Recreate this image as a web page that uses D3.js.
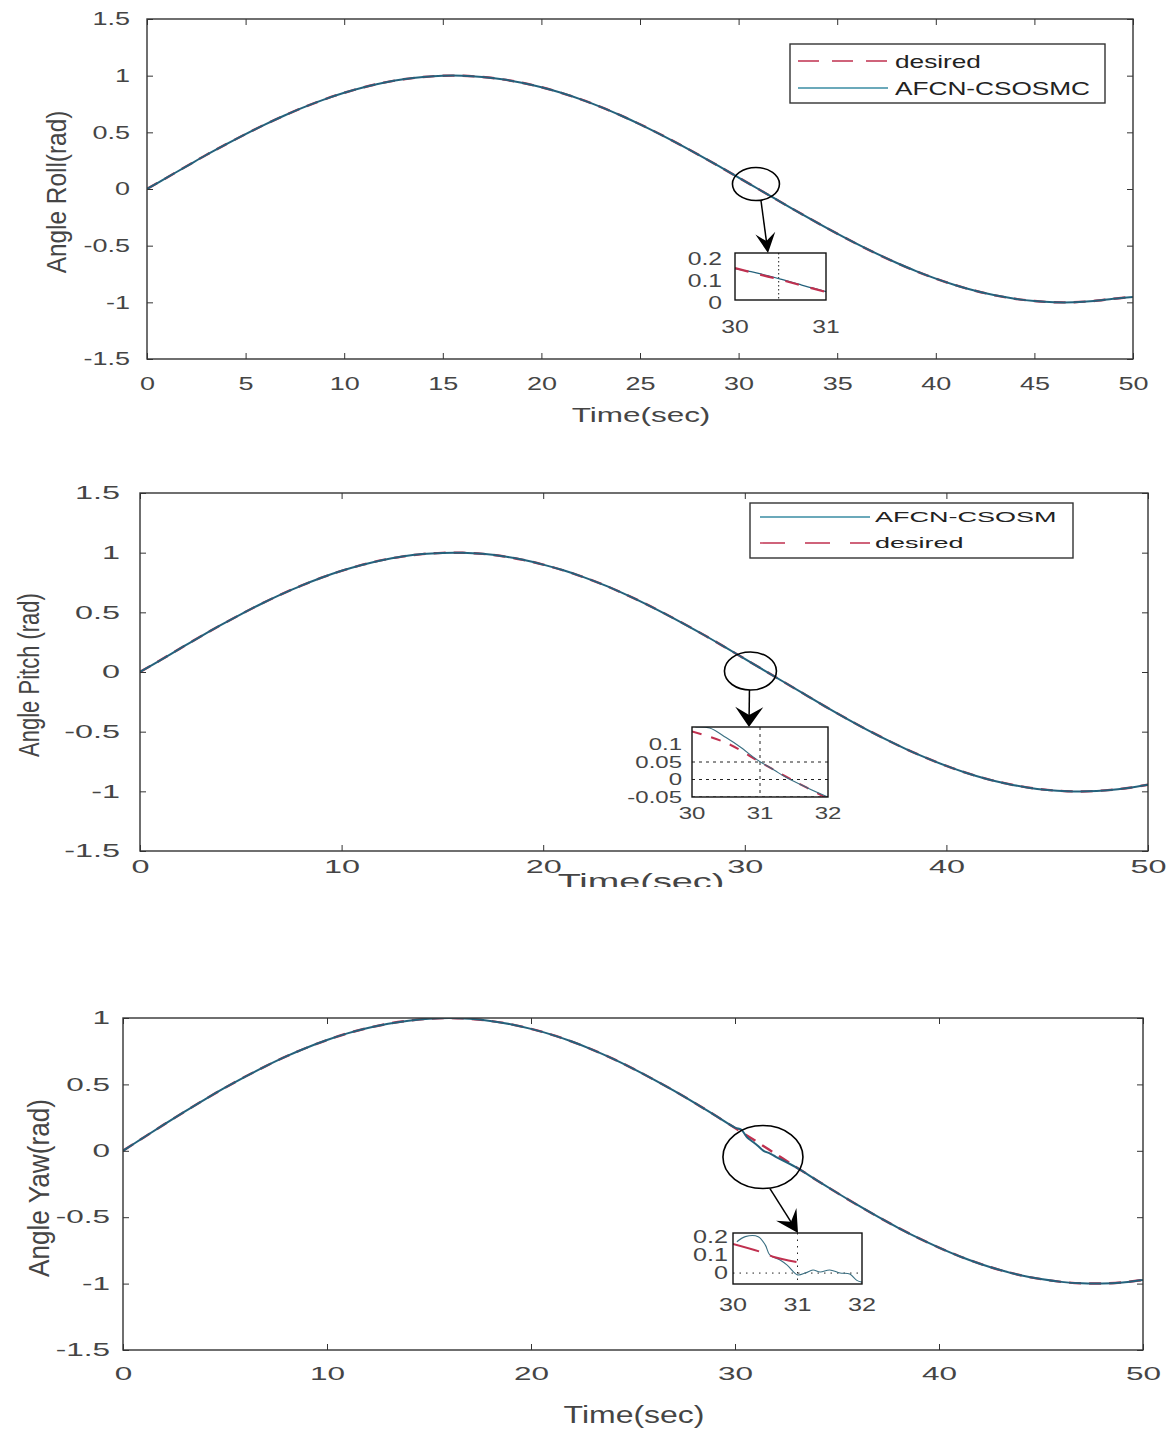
<!DOCTYPE html>
<html><head><meta charset="utf-8">
<script src="https://cdn.jsdelivr.net/npm/d3@7"></script>
<style>
body{margin:0;background:#fff}
svg{display:block}
text{font-family:"Liberation Sans",Arial,sans-serif}
</style>
</head><body>
<svg id="c" width="1173" height="1430"></svg>
<script>
// ---------------- DATA ----------------
const timeSec = [0,1,2,3,4,5,6,7,8,9,10,11,12,13,14,15,16,17,18,19,20,21,22,23,24,25,26,27,28,29,30,31,32,33,34,35,36,37,38,39,40,41,42,43,44,45,46,47,48,49,50];
const rollValues = [0,0.10,0.20,0.30,0.394,0.485,0.571,0.651,0.725,0.791,0.849,0.898,0.938,0.968,0.988,0.999,0.999,0.988,0.968,0.938,0.898,0.849,0.791,0.725,0.651,0.571,0.485,0.394,0.299,0.201,0.101,0.0,-0.101,-0.201,-0.299,-0.394,-0.485,-0.571,-0.651,-0.725,-0.791,-0.849,-0.898,-0.938,-0.968,-0.988,-0.999,-0.999,-0.988,-0.968,-0.952];
const pitchValues = [0,0.098,0.198,0.297,0.392,0.483,0.57,0.65,0.724,0.79,0.848,0.897,0.937,0.967,0.988,0.998,0.999,0.99,0.97,0.94,0.9,0.852,0.795,0.73,0.657,0.578,0.492,0.402,0.308,0.21,0.11,0.01,-0.09,-0.19,-0.29,-0.386,-0.478,-0.565,-0.646,-0.72,-0.787,-0.846,-0.896,-0.936,-0.967,-0.988,-0.999,-1.0,-0.99,-0.972,-0.945];
const yawDesired = [0,0.099,0.197,0.293,0.386,0.475,0.559,0.638,0.711,0.776,0.834,0.884,0.925,0.957,0.98,0.995,1.0,0.994,0.978,0.953,0.918,0.875,0.823,0.762,0.694,0.619,0.538,0.453,0.363,0.269,0.172,0.075,-0.024,-0.123,-0.221,-0.316,-0.408,-0.496,-0.58,-0.658,-0.729,-0.794,-0.85,-0.898,-0.937,-0.966,-0.987,-0.998,-0.999,-0.991,-0.973];
const yawActualTime = [0,1,2,3,4,5,6,7,8,9,10,11,12,13,14,15,16,17,18,19,20,21,22,23,24,25,26,27,28,29,30,30.3,30.6,30.85,31.1,31.4,31.7,32,33,34,35,36,37,38,39,40,41,42,43,44,45,46,47,48,49,50];
const yawActualValues = [0,0.099,0.197,0.293,0.386,0.475,0.559,0.638,0.711,0.776,0.834,0.884,0.925,0.957,0.98,0.995,1.0,0.994,0.978,0.953,0.918,0.875,0.823,0.762,0.694,0.619,0.538,0.453,0.363,0.269,0.175,0.16,0.1,0.07,0.04,0.0,-0.02,-0.045,-0.125,-0.221,-0.316,-0.408,-0.496,-0.58,-0.658,-0.729,-0.794,-0.85,-0.898,-0.937,-0.966,-0.987,-0.998,-0.999,-0.991,-0.973];

// inset (zoomed) data
const inset1DesiredTime = [30,30.25,30.5,30.75,31];
const inset1DesiredValues = [0.145,0.118,0.092,0.064,0.036];
const inset1ActualTime = [30,30.1,30.2,30.3,30.4,30.5,30.6,30.7,30.8,30.9,31];
const inset1ActualValues = [0.142,0.134,0.127,0.117,0.106,0.095,0.084,0.072,0.06,0.05,0.038];
const inset2DesiredTime = [30,30.5,31,31.5,32];
const inset2DesiredValues = [0.137,0.105,0.05,-0.004,-0.055];
const inset2ActualTime = [30.05,30.26,30.5,30.71,30.96,31.2,31.4,31.7,32];
const inset2ActualValues = [0.15,0.147,0.12,0.093,0.056,0.028,0.004,-0.024,-0.05];
const inset3DesiredTime = [30,30.42,30.62,31];
const inset3DesiredValues = [0.16,0.117,0.09,0.06];
const inset3ActualTime = [30.06,30.19,30.39,30.5,30.57,30.73,30.84,31,31.12,31.24,31.35,31.5,31.66,31.81,31.92,32];
const inset3ActualValues = [0.172,0.2,0.2,0.155,0.1,0.072,0.044,-0.01,0,0.017,0.006,0.017,0,-0.005,-0.04,-0.05];

// tick labels
const rollXTicks = [0,5,10,15,20,25,30,35,40,45,50];
const rollXTickLabels = ["0","5","10","15","20","25","30","35","40","45","50"];
const xTicks10 = [0,10,20,30,40,50];
const xTickLabels10 = ["0","10","20","30","40","50"];
const yTicksFull = [-1.5,-1,-0.5,0,0.5,1,1.5];
const yTickLabelsFull = ["-1.5","-1","-0.5","0","0.5","1","1.5"];
const yawYTicks = [-1.5,-1,-0.5,0,0.5,1];
const yawYTickLabels = ["-1.5","-1","-0.5","0","0.5","1"];
const inset1XTicks = [30,31], inset1XLabels = ["30","31"];
const inset1YTicks = [0,0.1,0.2], inset1YLabels = ["0","0.1","0.2"];
const inset2XTicks = [30,31,32], inset2XLabels = ["30","31","32"];
const inset2YTicks = [-0.05,0,0.05,0.1], inset2YLabels = ["-0.05","0","0.05","0.1"];
const inset3XTicks = [30,31,32], inset3XLabels = ["30","31","32"];
const inset3YTicks = [0,0.1,0.2], inset3YLabels = ["0","0.1","0.2"];

const seriesNames = {desired:"desired", actual1:"AFCN-CSOSMC", actual2:"AFCN-CSOSM"};

// ---------------- STYLE ----------------
const BLUE = "#24627c", BLUE_LEG = "#3a8ca3", RED = "#c0304f", AX = "#333", TXT = "#454545";
const svg = d3.select("#c");
let clipN = 0;

function hText(g, x, y, str, o) {
  return g.append("text")
    .attr("transform", `translate(${x},${y}) scale(${o.sx||1},1)`)
    .attr("text-anchor", o.anchor || "start")
    .attr("dy", "0.35em")
    .attr("font-size", o.size)
    .attr("fill", o.fill || TXT)
    .text(str);
}

function arrow(g, x1, y1, x2, y2, L, W) {
  const dx = x2 - x1, dy = y2 - y1, len = Math.hypot(dx, dy);
  const ux = dx / len, uy = dy / len, nx = -uy, ny = ux;
  g.append("line").attr("x1", x1).attr("y1", y1)
    .attr("x2", x2 - ux * L * 0.6).attr("y2", y2 - uy * L * 0.6)
    .attr("stroke", "#000").attr("stroke-width", 1.5);
  const pts = [[x2, y2],
    [x2 - ux * L + nx * W / 2, y2 - uy * L + ny * W / 2],
    [x2 - ux * L * 0.6, y2 - uy * L * 0.6],
    [x2 - ux * L - nx * W / 2, y2 - uy * L - ny * W / 2]];
  g.append("path").attr("d", "M" + pts.map(p => p.join(",")).join("L") + "Z").attr("fill", "#000");
}

function styleAxis(sel, size, sx) {
  sel.attr("font-family", null).attr("font-size", null);
  sel.select(".domain").remove();
  sel.selectAll(".tick line").attr("stroke", AX);
  sel.selectAll(".tick text").attr("font-size", size).attr("fill", TXT)
    .attr("transform", `scale(${sx},1)`);
}

function drawSeries(g, x, y, times, vals, color, width, dash) {
  const line = d3.line().x((d, i) => x(times[i])).y(d => y(d)).curve(d3.curveCatmullRom);
  const p = g.append("path").datum(vals).attr("d", line)
    .attr("fill", "none").attr("stroke", color).attr("stroke-width", width)
    .attr("stroke-linejoin", "round");
  if (dash) p.attr("stroke-dasharray", dash);
  return p;
}

function panel(cfg) {
  const x = d3.scaleLinear().domain([0, 50]).range([cfg.left, cfg.right]);
  const y = d3.scaleLinear().domain(cfg.yDomain).range([cfg.bottom, cfg.top]);
  const g = svg.append("g");
  const id = "clip" + (clipN++);
  g.append("clipPath").attr("id", id).append("rect")
    .attr("x", cfg.left).attr("y", cfg.top)
    .attr("width", cfg.right - cfg.left).attr("height", cfg.bottom - cfg.top);
  const cg = g.append("g").attr("clip-path", `url(#${id})`);
  cfg.series.forEach(s => drawSeries(cg, x, y, s.t, s.v, s.color, s.width, s.dash));

  // axes (ticks inward)
  const ax = g.append("g").attr("transform", `translate(0,${cfg.bottom})`)
    .call(d3.axisBottom(x).tickValues(cfg.xTicks).tickFormat((d, i) => cfg.xLabels[i])
      .tickSizeInner(-6).tickSizeOuter(0).tickPadding(cfg.xPad));
  styleAxis(ax, cfg.tickSize, cfg.tickSx);
  const ay = g.append("g").attr("transform", `translate(${cfg.left},0)`)
    .call(d3.axisLeft(y).tickValues(cfg.yTicks).tickFormat((d, i) => cfg.yLabels[i])
      .tickSizeInner(-6).tickSizeOuter(0).tickPadding(cfg.yPad / cfg.tickSx));
  styleAxis(ay, cfg.tickSize, cfg.tickSx);
  const at = g.append("g").attr("transform", `translate(0,${cfg.top})`)
    .call(d3.axisTop(x).tickValues(cfg.xTicks).tickFormat("").tickSizeInner(-6).tickSizeOuter(0));
  styleAxis(at, cfg.tickSize, 1);
  const ar = g.append("g").attr("transform", `translate(${cfg.right},0)`)
    .call(d3.axisRight(y).tickValues(cfg.yTicks).tickFormat("").tickSizeInner(-6).tickSizeOuter(0));
  styleAxis(ar, cfg.tickSize, 1);

  g.append("rect").attr("x", cfg.left).attr("y", cfg.top)
    .attr("width", cfg.right - cfg.left).attr("height", cfg.bottom - cfg.top)
    .attr("fill", "none").attr("stroke", AX).attr("stroke-width", 1.4);

  // axis labels
  const xl = cfg.xLabel;
  let xg = g;
  if (xl.clipY) {
    const id2 = "clip" + (clipN++);
    g.append("clipPath").attr("id", id2).append("rect")
      .attr("x", 0).attr("y", cfg.bottom).attr("width", 1173).attr("height", xl.clipY - cfg.bottom);
    xg = g.append("g").attr("clip-path", `url(#${id2})`);
  }
  hText(xg, xl.x, xl.y, xl.text, {size: xl.size, sx: xl.sx, anchor: "middle"});
  const yl = cfg.yLabel;
  g.append("text")
    .attr("transform", `translate(${yl.x},${yl.y}) rotate(-90) scale(${yl.lx},${yl.ly})`)
    .attr("text-anchor", "middle").attr("dy", "0.35em")
    .attr("font-size", yl.size).attr("fill", TXT).text(yl.text);

  // zoom annotation: circle + arrow
  const an = cfg.annot;
  const cx = x(an.t), cy = y(an.v);
  g.append("ellipse").attr("cx", cx).attr("cy", cy).attr("rx", an.rx).attr("ry", an.ry)
    .attr("fill", "none").attr("stroke", "#000").attr("stroke-width", 1.6);
  arrow(g, cx + an.dx, cy + an.ry, an.tipX, an.tipY, an.headL, an.headW);

  // legend
  const lg = cfg.legend;
  if (lg) {
    g.append("rect").attr("x", lg.x0).attr("y", lg.y0).attr("width", lg.x1 - lg.x0).attr("height", lg.y1 - lg.y0)
      .attr("fill", "#fff").attr("stroke", AX).attr("stroke-width", 1.4);
    lg.items.forEach(it => {
      const l = g.append("line").attr("x1", lg.lx0).attr("x2", lg.lx1).attr("y1", it.y).attr("y2", it.y)
        .attr("stroke", it.color).attr("stroke-width", it.width);
      if (it.dash) l.attr("stroke-dasharray", it.dash);
      hText(g, lg.tx, it.y, it.name, {size: lg.size, sx: lg.sx, fill: "#222"});
    });
  }
  return {x, y};
}

function inset(c) {
  const x = d3.scaleLinear().domain(c.xDomain).range([c.x0, c.x1]);
  const y = d3.scaleLinear().domain(c.yDomain).range([c.y1, c.y0]);
  const g = svg.append("g");
  g.append("rect").attr("x", c.x0).attr("y", c.y0).attr("width", c.x1 - c.x0).attr("height", c.y1 - c.y0)
    .attr("fill", "#fff");
  const id = "clip" + (clipN++);
  g.append("clipPath").attr("id", id).append("rect")
    .attr("x", c.x0).attr("y", c.y0).attr("width", c.x1 - c.x0).attr("height", c.y1 - c.y0);
  const cg = g.append("g").attr("clip-path", `url(#${id})`);
  (c.gridX || []).forEach(v => cg.append("line").attr("x1", x(v)).attr("x2", x(v)).attr("y1", c.y0).attr("y2", c.y1)
    .attr("stroke", "#222").attr("stroke-width", 1).attr("stroke-dasharray", c.gridDash));
  (c.gridY || []).forEach(v => cg.append("line").attr("y1", y(v)).attr("y2", y(v)).attr("x1", c.x0).attr("x2", c.x1)
    .attr("stroke", "#222").attr("stroke-width", 1).attr("stroke-dasharray", c.gridDash));
  c.series.forEach(s => drawSeries(cg, x, y, s.t, s.v, s.color, s.width, s.dash));
  g.append("rect").attr("x", c.x0).attr("y", c.y0).attr("width", c.x1 - c.x0).attr("height", c.y1 - c.y0)
    .attr("fill", "none").attr("stroke", "#111").attr("stroke-width", 1.4);
  c.xTicks.forEach((v, i) => hText(g, x(v), c.y1 + c.xOff, c.xLabels[i], {size: c.size, sx: c.sx, anchor: "middle"}));
  c.yTicks.forEach((v, i) => hText(g, c.x0 - c.yPad, y(v) + (c.yShift || 0), c.yLabels[i], {size: c.size, sx: c.sx, anchor: "end"}));
}

// ---------------- PANEL 1: ROLL ----------------
panel({
  left: 147, right: 1133, top: 19, bottom: 359, yDomain: [-1.5, 1.5],
  xTicks: rollXTicks, xLabels: rollXTickLabels, yTicks: yTicksFull, yLabels: yTickLabelsFull,
  tickSize: 18, tickSx: 1.5, xPad: 18, yPad: 17,
  series: [
    {t: timeSec, v: rollValues, color: RED, width: 2.4, dash: "12,8"},
    {t: timeSec, v: rollValues, color: BLUE, width: 2}
  ],
  xLabel: {text: "Time(sec)", x: 641, y: 415, size: 21, sx: 1.5},
  yLabel: {text: "Angle Roll(rad)", x: 57, y: 192, size: 20, lx: 1.22, ly: 1.35},
  annot: {t: 30.88, v: 0.044, rx: 23.5, ry: 16.5, dx: 5, tipX: 768, tipY: 253, headL: 20, headW: 20},
  legend: {x0: 790, x1: 1105, y0: 44, y1: 103, lx0: 798, lx1: 888, tx: 895, size: 19, sx: 1.38,
    items: [
      {name: seriesNames.desired, y: 61, color: RED, width: 1.6, dash: "21,13"},
      {name: seriesNames.actual1, y: 88, color: BLUE_LEG, width: 1.6}
    ]}
});
inset({
  x0: 735, x1: 826, y0: 253, y1: 300, xDomain: [30, 31], yDomain: [-0.0, 0.2136],
  xTicks: inset1XTicks, xLabels: inset1XLabels, yTicks: inset1YTicks, yLabels: inset1YLabels,
  size: 19, sx: 1.3, xOff: 26, yPad: 13, yShift: 2,
  gridX: [30.48], gridDash: "1.5,2.5",
  series: [
    {t: inset1ActualTime, v: inset1ActualValues, color: BLUE, width: 1.2},
    {t: inset1DesiredTime, v: inset1DesiredValues, color: RED, width: 2.2, dash: "14,12"}
  ]
});

// ---------------- PANEL 2: PITCH ----------------
panel({
  left: 140, right: 1148, top: 493, bottom: 851, yDomain: [-1.5, 1.5],
  xTicks: xTicks10, xLabels: xTickLabels10, yTicks: yTicksFull, yLabels: yTickLabelsFull,
  tickSize: 18, tickSx: 1.8, xPad: 9, yPad: 20,
  series: [
    {t: timeSec, v: pitchValues, color: RED, width: 2.4, dash: "12,8"},
    {t: timeSec, v: pitchValues, color: BLUE, width: 2}
  ],
  xLabel: {text: "Time(sec)", x: 641, y: 881, size: 22, sx: 1.72, clipY: 887},
  yLabel: {text: "Angle Pitch (rad)", x: 28, y: 675, size: 20, lx: 1.1, ly: 1.5},
  annot: {t: 30.28, v: 0.008, rx: 26, ry: 19, dx: -1, tipX: 749, tipY: 727, headL: 20, headW: 28},
  legend: {x0: 750, x1: 1073, y0: 503, y1: 558, lx0: 760, lx1: 870, tx: 875, size: 15, sx: 1.8,
    items: [
      {name: seriesNames.actual2, y: 517, color: BLUE_LEG, width: 1.4},
      {name: seriesNames.desired, y: 543, color: RED, width: 1.4, dash: "25,20"}
    ]}
});
inset({
  x0: 692, x1: 828, y0: 727, y1: 797, xDomain: [30, 32], yDomain: [-0.05, 0.15],
  xTicks: inset2XTicks, xLabels: inset2XLabels, yTicks: inset2YTicks, yLabels: inset2YLabels,
  size: 16, sx: 1.5, xOff: 16, yPad: 10,
  gridX: [31], gridY: [0.05, 0, -0.05], gridDash: "3,4",
  series: [
    {t: inset2DesiredTime, v: inset2DesiredValues, color: RED, width: 2, dash: "10,10"},
    {t: inset2ActualTime, v: inset2ActualValues, color: "#3a6f82", width: 1.1}
  ]
});

// ---------------- PANEL 3: YAW ----------------
panel({
  left: 123, right: 1143, top: 1018, bottom: 1350, yDomain: [-1.5, 1],
  xTicks: xTicks10, xLabels: xTickLabels10, yTicks: yawYTicks, yLabels: yawYTickLabels,
  tickSize: 18, tickSx: 1.75, xPad: 17, yPad: 13,
  series: [
    {t: timeSec, v: yawDesired, color: RED, width: 2.4, dash: "12,8"},
    {t: yawActualTime, v: yawActualValues, color: BLUE, width: 2}
  ],
  xLabel: {text: "Time(sec)", x: 634, y: 1415, size: 23, sx: 1.39},
  yLabel: {text: "Angle Yaw(rad)", x: 38, y: 1188, size: 20, lx: 1.31, ly: 1.5},
  annot: {t: 31.37, v: -0.047, rx: 40, ry: 31.5, dx: 7, tipX: 798, tipY: 1233, headL: 22, headW: 24},
  legend: null
});
inset({
  x0: 733, x1: 862, y0: 1233, y1: 1284, xDomain: [30, 32], yDomain: [-0.06, 0.22],
  xTicks: inset3XTicks, xLabels: inset3XLabels, yTicks: inset3YTicks, yLabels: inset3YLabels,
  size: 18, sx: 1.4, xOff: 21, yPad: 5,
  gridX: [31], gridY: [0], gridDash: "1.5,5",
  series: [
    {t: inset3ActualTime, v: inset3ActualValues, color: "#3a6f82", width: 1.1},
    {t: inset3DesiredTime, v: inset3DesiredValues, color: RED, width: 2, dash: "27,12"}
  ]
});
</script>
</body></html>
